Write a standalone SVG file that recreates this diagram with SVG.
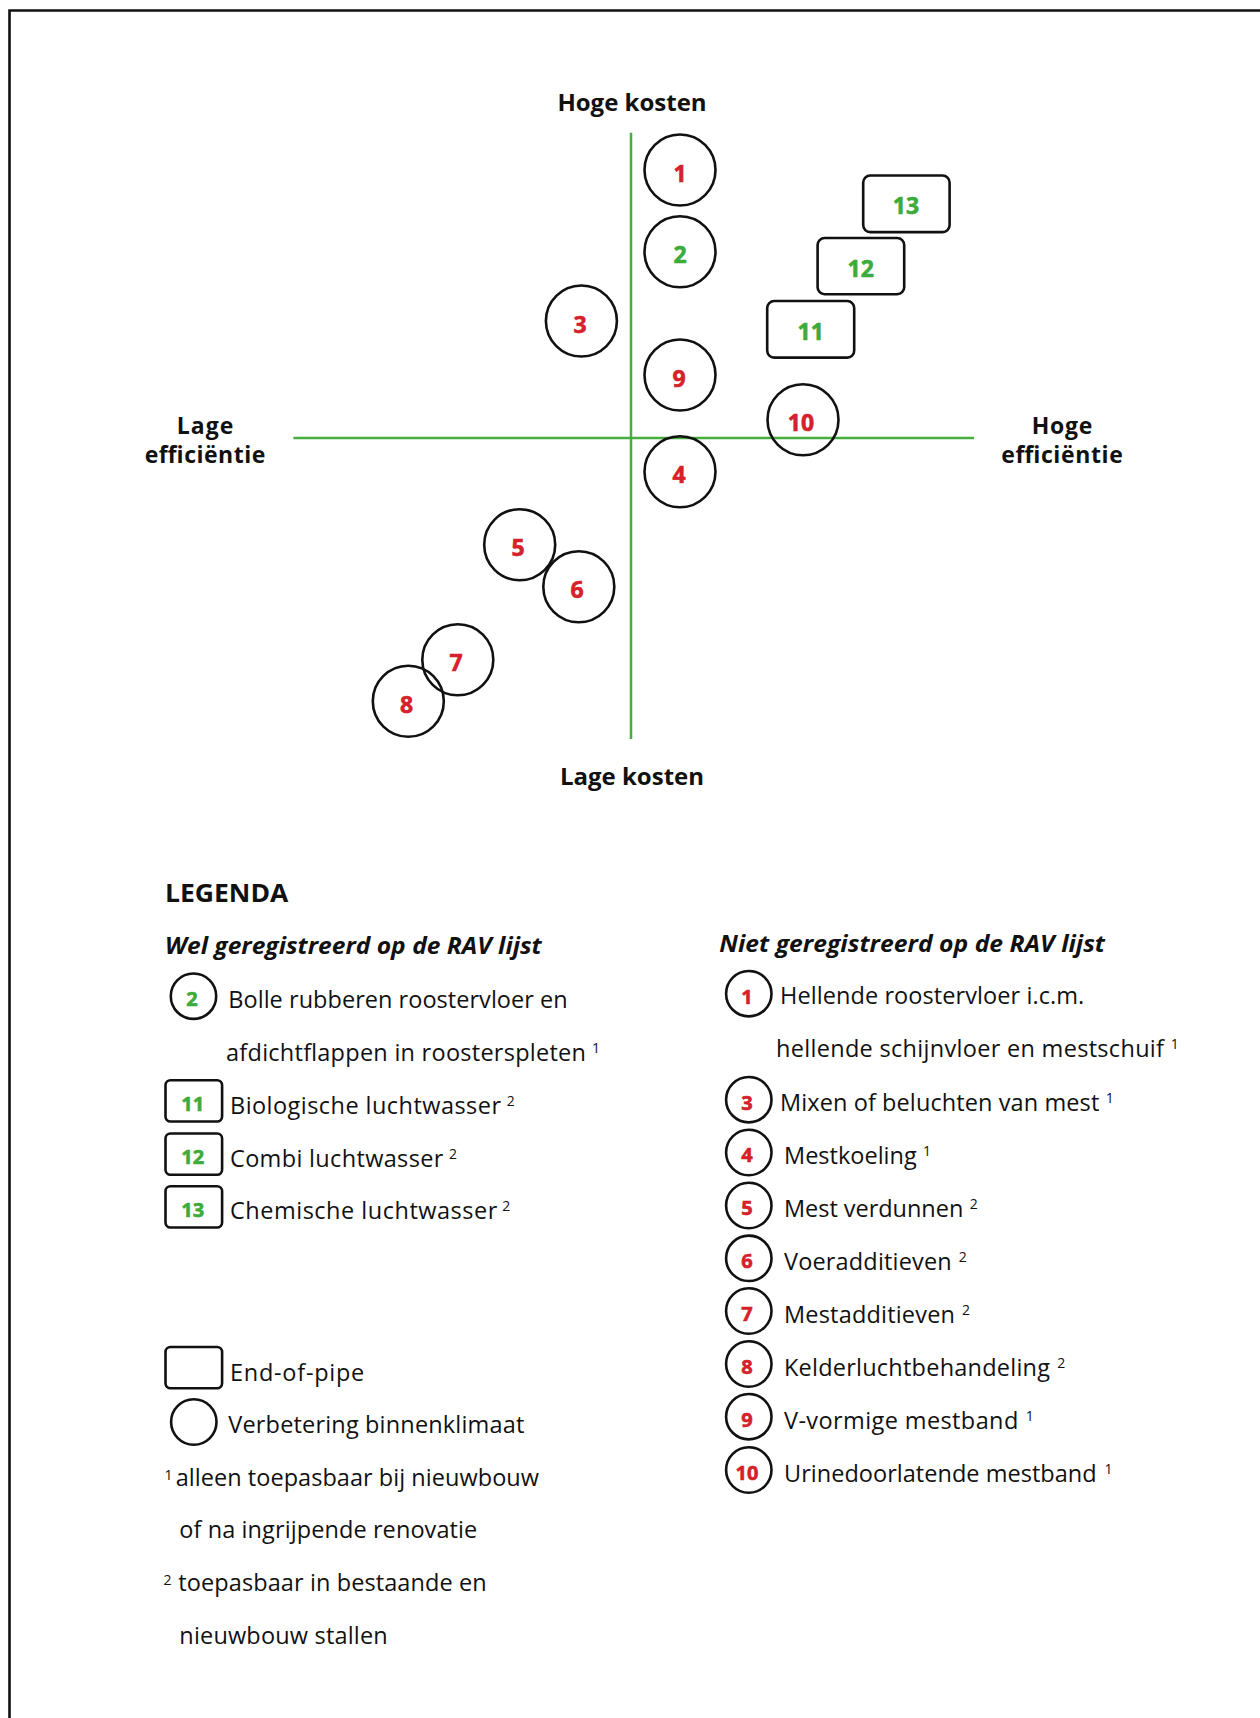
<svg xmlns="http://www.w3.org/2000/svg" width="1260" height="1718" viewBox="0 0 1260 1718">
<style>
.t{font-family:"Open Sans","Noto Sans","Liberation Sans",sans-serif;fill:#111}
.b{font-weight:700}
.lbl{font-size:24px;font-weight:700;text-anchor:middle}
.eff{font-size:23px}
.leg{font-size:23.5px}
.sup{font-size:14px}
.num{font-family:"Open Sans","Noto Sans","Liberation Sans",sans-serif;font-weight:700;font-size:23px;text-anchor:middle}
.lnum{font-family:"Open Sans","Noto Sans","Liberation Sans",sans-serif;font-weight:700;font-size:20px;text-anchor:middle}
.red{fill:#d6202a;stroke:#d6202a;stroke-width:0.6}
.grn{fill:#3dab3a;stroke:#3dab3a;stroke-width:0.6}
.c{fill:none;stroke:#111;stroke-width:2.6}
.r{fill:none;stroke:#111;stroke-width:2.6}
.axis{stroke:#46ad3f;stroke-width:2.5;fill:none}
</style>
<rect width="1260" height="1718" fill="#fff"/>
<path d="M9.5 1718 V10.5 H1260" fill="none" stroke="#111" stroke-width="2.6"/>

<g id="connectors">
<line class="axis" x1="631" y1="132.7" x2="631" y2="739"/>
<line class="axis" x1="293.4" y1="438" x2="974" y2="438"/>
</g>

<g id="axis-labels">
<text class="t lbl" x="632" y="110.7">Hoge kosten</text>
<text class="t lbl" x="632" y="785">Lage kosten</text>
<text class="t lbl eff" x="205" y="434" textLength="56.6">Lage</text>
<text class="t lbl eff" x="205" y="462.7" textLength="120.5">efficiëntie</text>
<text class="t lbl eff" x="1062" y="434" textLength="60.7">Hoge</text>
<text class="t lbl eff" x="1062" y="462.7" textLength="121.5">efficiëntie</text>
</g>

<g id="node-1"><circle class="c" cx="680" cy="170" r="35.5"/><text class="num red" x="680" y="181.7">1</text></g>
<g id="node-2"><circle class="c" cx="680" cy="251.7" r="35.5"/><text class="num grn" x="680" y="263.3">2</text></g>
<g id="node-3"><circle class="c" cx="581.4" cy="321" r="35.5"/><text class="num red" x="580" y="332.6">3</text></g>
<g id="node-9"><circle class="c" cx="680" cy="375" r="35.5"/><text class="num red" x="679" y="386.6">9</text></g>
<g id="node-4"><circle class="c" cx="680" cy="471.7" r="35.5"/><text class="num red" x="679" y="483.3">4</text></g>
<g id="node-10"><circle class="c" cx="803" cy="419.7" r="35.5"/><text class="num red" x="801" y="431.2">10</text></g>
<g id="node-5"><circle class="c" cx="519.7" cy="544.7" r="35.5"/><text class="num red" x="518" y="556.2">5</text></g>
<g id="node-6"><circle class="c" cx="578.8" cy="586.8" r="35.5"/><text class="num red" x="577" y="598.3">6</text></g>
<g id="node-7"><circle class="c" cx="457.8" cy="659.7" r="35.5"/><text class="num red" x="456" y="671.2">7</text></g>
<g id="node-8"><circle class="c" cx="408.3" cy="701.3" r="35.5"/><text class="num red" x="406.5" y="712.8">8</text></g>
<g id="node-11"><rect class="r" x="767.2" y="301" width="87" height="56.6" rx="7"/><text class="num grn" x="810.7" y="340">11</text></g>
<g id="node-12"><rect class="r" x="817.6" y="238" width="86.6" height="56.2" rx="7"/><text class="num grn" x="860.7" y="277">12</text></g>
<g id="node-13"><rect class="r" x="863.2" y="175.5" width="86.4" height="56.6" rx="7"/><text class="num grn" x="906" y="214.3">13</text></g>

<g id="legend-left">
<text class="t b" x="165" y="901.7" font-size="24.5" textLength="123.3" lengthAdjust="spacingAndGlyphs">LEGENDA</text>
<text class="t b" x="165" y="954.3" font-size="22.5" font-style="italic" textLength="376.7" lengthAdjust="spacingAndGlyphs">Wel geregistreerd op de RAV lijst</text>
<circle class="c" cx="193.5" cy="996.2" r="22.7"/><text class="lnum grn" x="192" y="1006">2</text>
<text class="t leg" x="228.3" y="1007.7" textLength="339.4">Bolle rubberen roostervloer en</text>
<text class="t leg" x="226" y="1061" textLength="360">afdichtflappen in roosterspleten</text>
<text class="t sup" x="592" y="1053">1</text>
<rect class="r" x="165.5" y="1080.2" width="56.6" height="41.3" rx="5"/><text class="lnum grn" x="192.7" y="1110.7">11</text>
<text class="t leg" x="230" y="1114" textLength="271">Biologische luchtwasser</text>
<text class="t sup" x="506.7" y="1106">2</text>
<rect class="r" x="165.5" y="1133.5" width="56.6" height="41.3" rx="5"/><text class="lnum grn" x="192.7" y="1164">12</text>
<text class="t leg" x="230" y="1166.7" textLength="213.3">Combi luchtwasser</text>
<text class="t sup" x="449" y="1158.7">2</text>
<rect class="r" x="165.5" y="1186.2" width="56.6" height="41.3" rx="5"/><text class="lnum grn" x="192.7" y="1216.7">13</text>
<text class="t leg" x="230" y="1219.3" textLength="267.3">Chemische luchtwasser</text>
<text class="t sup" x="502.3" y="1211.3">2</text>
<rect class="r" x="165.5" y="1347" width="56.6" height="41.3" rx="5"/>
<text class="t leg" x="230" y="1381" textLength="134.3">End-of-pipe</text>
<circle class="c" cx="193.8" cy="1422" r="22.7"/>
<text class="t leg" x="228.3" y="1433.3" textLength="296">Verbetering binnenklimaat</text>
<text class="t sup" x="164.5" y="1480">1</text>
<text class="t leg" x="175.7" y="1485.7" textLength="363.3">alleen toepasbaar bij nieuwbouw</text>
<text class="t leg" x="179.3" y="1538.3" textLength="298">of na ingrijpende renovatie</text>
<text class="t sup" x="163.5" y="1585">2</text>
<text class="t leg" x="178.3" y="1591" textLength="308.4">toepasbaar in bestaande en</text>
<text class="t leg" x="179.3" y="1644" textLength="208.4">nieuwbouw stallen</text>
</g>

<g id="legend-right">
<text class="t b" x="719.3" y="951.7" font-size="22.5" font-style="italic" textLength="385.7" lengthAdjust="spacingAndGlyphs">Niet geregistreerd op de RAV lijst</text>
<circle class="c" cx="748.8" cy="993.7" r="22.7"/><text class="lnum red" x="747" y="1003.5">1</text>
<text class="t leg" x="780" y="1004.3" textLength="304.3">Hellende roostervloer i.c.m.</text>
<text class="t leg" x="776" y="1057.3" textLength="388">hellende schijnvloer en mestschuif</text>
<text class="t sup" x="1170.7" y="1049.3">1</text>
<circle class="c" cx="748.8" cy="1099.7" r="22.7"/><text class="lnum red" x="747" y="1109.5">3</text>
<text class="t leg" x="780" y="1110.7" textLength="319.3">Mixen of beluchten van mest</text>
<text class="t sup" x="1105.7" y="1102.7">1</text>
<circle class="c" cx="748.8" cy="1152.5" r="22.7"/><text class="lnum red" x="747" y="1162.3">4</text>
<text class="t leg" x="784" y="1164.3" textLength="132.7">Mestkoeling</text>
<text class="t sup" x="923" y="1156.3">1</text>
<circle class="c" cx="748.8" cy="1205.5" r="22.7"/><text class="lnum red" x="747" y="1215.3">5</text>
<text class="t leg" x="784" y="1216.7" textLength="179.3">Mest verdunnen</text>
<text class="t sup" x="969.7" y="1208.7">2</text>
<circle class="c" cx="748.8" cy="1258.3" r="22.7"/><text class="lnum red" x="747" y="1268.1">6</text>
<text class="t leg" x="784" y="1270" textLength="167.7">Voeradditieven</text>
<text class="t sup" x="958.7" y="1262">2</text>
<circle class="c" cx="748.8" cy="1311" r="22.7"/><text class="lnum red" x="747" y="1320.8">7</text>
<text class="t leg" x="784" y="1323.3" textLength="171">Mestadditieven</text>
<text class="t sup" x="962" y="1315.3">2</text>
<circle class="c" cx="748.8" cy="1364" r="22.7"/><text class="lnum red" x="747" y="1373.8">8</text>
<text class="t leg" x="784" y="1376" textLength="266">Kelderluchtbehandeling</text>
<text class="t sup" x="1057.3" y="1368">2</text>
<circle class="c" cx="748.8" cy="1416.7" r="22.7"/><text class="lnum red" x="747" y="1426.5">9</text>
<text class="t leg" x="784" y="1429.3" textLength="234.3">V-vormige mestband</text>
<text class="t sup" x="1025.7" y="1421.3">1</text>
<circle class="c" cx="748.8" cy="1470" r="22.7"/><text class="lnum red" x="747" y="1479.8">10</text>
<text class="t leg" x="784" y="1481.7" textLength="312.7">Urinedoorlatende mestband</text>
<text class="t sup" x="1104.5" y="1473.7">1</text>
</g>
</svg>
